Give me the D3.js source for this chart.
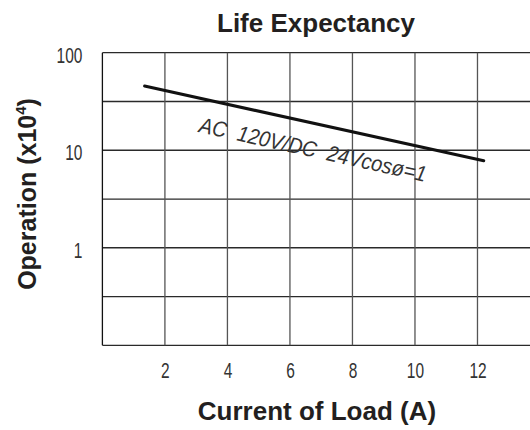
<!DOCTYPE html>
<html>
<head>
<meta charset="utf-8">
<script src="https://cdn.jsdelivr.net/npm/d3@7"></script>
<style>
  body { margin: 0; background: #fff; }
  svg { display: block; font-family: "Liberation Sans", Arial, sans-serif; }
</style>
</head>
<body>
<svg id="chart" width="530" height="430"></svg>
<script>
// data
const current = [1.35, 12.2];        // A
const operations = [45.5, 7.8];      // x10^4
const xTicks = [2, 4, 6, 8, 10, 12];
const xGrid = [0, 2, 4, 6, 8, 10, 12, 14];
const yTicks = [1, 10, 100];
const yGrid = [0.1, 0.316, 1, 3.16, 10, 31.6, 100];
const curveLabel = 'AC\u00a0\u00a0120V/DC\u00a0\u00a024Vcosø=1';
const labelAt = [3.06, 15.4];

const svg = d3.select('#chart');
const ink = '#231f20';

const x = d3.scaleLinear().domain([0, 14]).range([102.4, 540]);
const y = d3.scaleLog().domain([0.1, 100]).range([345.3, 52.7]);

// grid
const grid = svg.append('g').attr('class', 'grid');
grid.selectAll('line.h')
  .data(yGrid)
  .enter().append('line')
    .attr('class', 'h')
    .attr('x1', x(0)).attr('x2', x(14))
    .attr('y1', d => y(d)).attr('y2', d => y(d))
    .attr('stroke', '#2a2a2a')
    .attr('stroke-width', 1.3);
grid.selectAll('line.v')
  .data(xGrid)
  .enter().append('line')
    .attr('class', 'v')
    .attr('x1', d => x(d)).attr('x2', d => x(d))
    .attr('y1', y(100)).attr('y2', y(0.1))
    .attr('stroke', d => d === 0 ? '#111' : '#555')
    .attr('stroke-width', 1.3);

// tick labels, narrow digits
const sx = 0.72;
const xAxis = svg.append('g')
  .attr('transform', `translate(0,${y(0.1)})`)
  .call(d3.axisBottom(x).tickValues(xTicks).tickSize(0).tickPadding(0));
xAxis.select('.domain').remove();
xAxis.selectAll('text')
  .attr('y', 33).attr('dy', 0)
  .attr('transform', `scale(${sx},1)`)
  .attr('font-size', 21.5)
  .attr('font-family', '"Liberation Sans", Arial, sans-serif')
  .attr('fill', '#333');

const yAxis = svg.append('g')
  .attr('transform', `translate(${x(0)},0)`)
  .call(d3.axisLeft(y).tickValues(yTicks).tickFormat(d3.format('d')).tickSize(0).tickPadding(0));
yAxis.select('.domain').remove();
yAxis.selectAll('text')
  .attr('x', -20 / sx).attr('dy', 0).attr('y', 9.5)
  .attr('transform', `scale(${sx},1)`)
  .attr('font-size', 21.5)
  .attr('font-family', '"Liberation Sans", Arial, sans-serif')
  .attr('fill', '#333');

// life curve
const pts = current.map((c, i) => [c, operations[i]]);
svg.append('path')
  .datum(pts)
  .attr('d', d3.line().x(d => x(d[0])).y(d => y(d[1])))
  .attr('fill', 'none')
  .attr('stroke', '#111')
  .attr('stroke-width', 3)
  .attr('stroke-linecap', 'round');

// curve label follows the line slope
const p0 = [x(current[0]), y(operations[0])];
const p1 = [x(current[1]), y(operations[1])];
const angle = Math.atan2(p1[1] - p0[1], p1[0] - p0[0]) * 180 / Math.PI;
svg.append('text')
  .attr('transform', `translate(${x(labelAt[0])},${y(labelAt[1])}) rotate(${angle})`)
  .attr('font-size', 22)
  .attr('font-style', 'italic')
  .attr('fill', '#333')
  .attr('textLength', 232)
  .attr('lengthAdjust', 'spacingAndGlyphs')
  .text(curveLabel);

// titles
svg.append('text')
  .attr('x', 316).attr('y', 32)
  .attr('text-anchor', 'middle')
  .attr('font-size', 26).attr('font-weight', 'bold')
  .attr('fill', ink)
  .text('Life Expectancy');

svg.append('text')
  .attr('x', 317).attr('y', 420)
  .attr('text-anchor', 'middle')
  .attr('font-size', 26).attr('font-weight', 'bold')
  .attr('fill', ink)
  .text('Current of Load (A)');

const yt = svg.append('text')
  .attr('transform', 'translate(36,194) rotate(-90)')
  .attr('text-anchor', 'middle')
  .attr('font-size', 25).attr('font-weight', 'bold')
  .attr('fill', ink);
yt.append('tspan').text('Operation (x10');
yt.append('tspan').attr('font-size', 15).attr('dy', -10).text('4');
yt.append('tspan').attr('dy', 10).text(')');
</script>
</body>
</html>
